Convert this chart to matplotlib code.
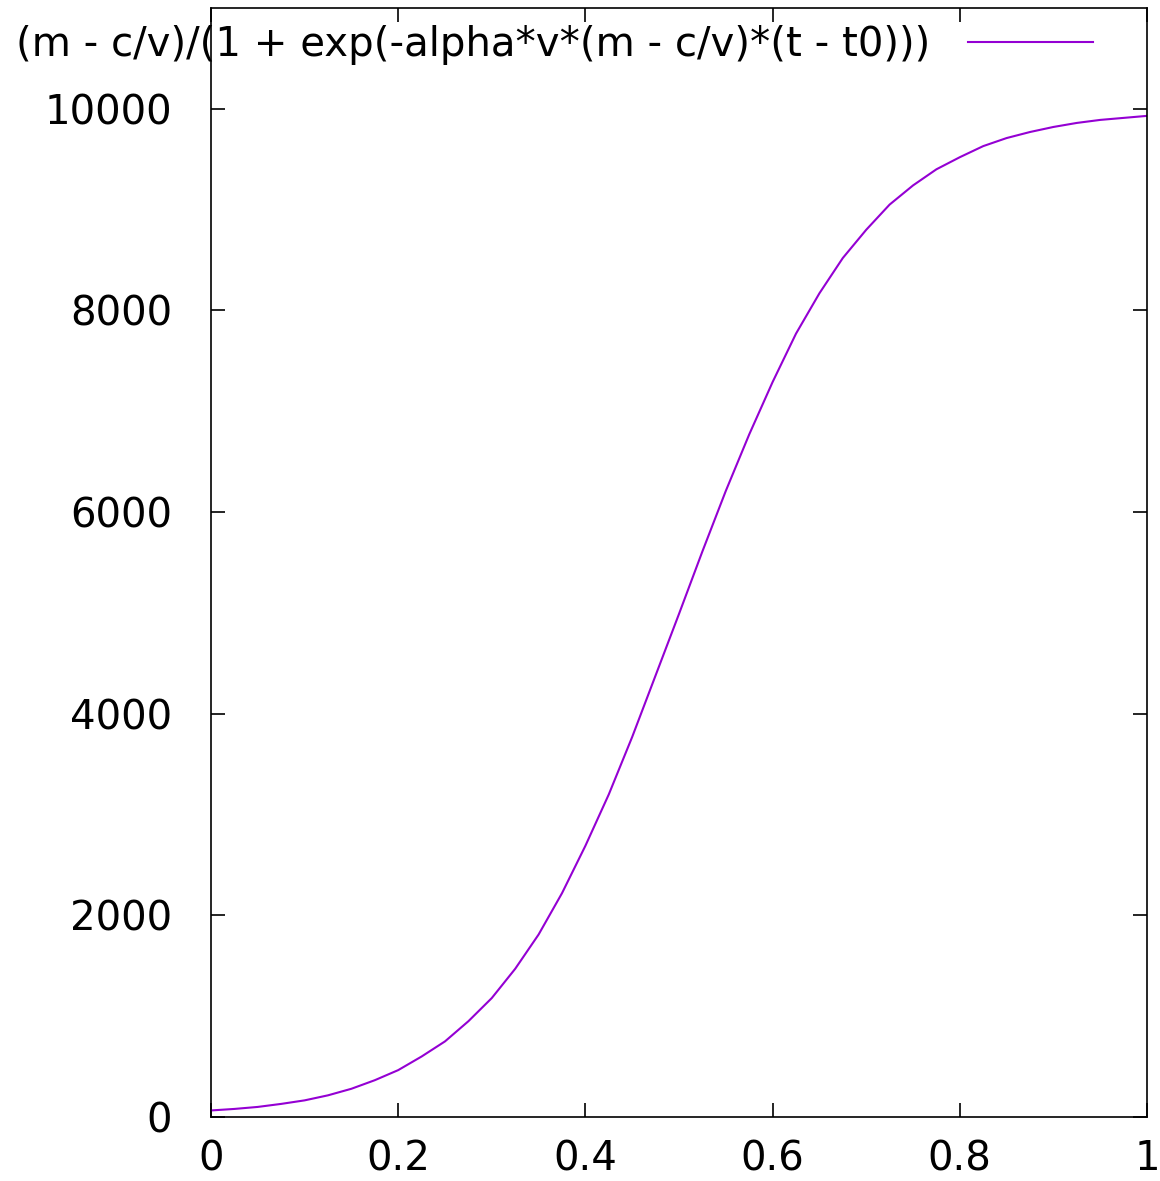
import numpy as np
import matplotlib
matplotlib.use("Agg")
import matplotlib.pyplot as plt

# values
t = [0.0, 0.025, 0.05, 0.075, 0.1, 0.125, 0.15, 0.175, 0.2, 0.225,
     0.25, 0.275, 0.3, 0.325, 0.35, 0.375, 0.4, 0.425, 0.45, 0.475,
     0.5, 0.525, 0.55, 0.575, 0.6, 0.625, 0.65, 0.675, 0.7, 0.725,
     0.75, 0.775, 0.8, 0.825, 0.85, 0.875, 0.9, 0.925, 0.95, 0.975, 1.0]
n = [65, 80, 100, 130, 165, 215, 280, 365, 465, 600,
     750, 950, 1180, 1470, 1810, 2220, 2690, 3200, 3770, 4380,
     4990, 5610, 6210, 6770, 7290, 7770, 8170, 8520, 8800, 9050,
     9240, 9400, 9520, 9630, 9710, 9770, 9820, 9860, 9890, 9910, 9930]
label = "(m - c/v)/(1 + exp(-alpha*v*(m - c/v)*(t - t0)))"
xticks = [0, 0.2, 0.4, 0.6, 0.8, 1]
xticklabels = ["0", "0.2", "0.4", "0.6", "0.8", "1"]
yticks = [0, 2000, 4000, 6000, 8000, 10000]

plt.rcParams['font.family'] = ['DejaVu Sans']
fs = 29

fig = plt.figure(figsize=(11.6, 11.81), dpi=100)
ax = fig.add_axes([211/1160, 1 - 1117/1181, (1147-211)/1160, (1117-8)/1181])

ax.plot(t, n, color='#9400d3', lw=1.5, label=label)

ax.set_xlim(0, 1)
ax.set_ylim(0, 11000)
ax.set_xticks(xticks)
ax.set_xticklabels(xticklabels)
ax.set_yticks(yticks)
ax.tick_params(direction='in', length=10, width=1.2, labelsize=fs,
               top=True, right=True, colors='black')
ax.tick_params(axis='y', pad=28)
ax.tick_params(axis='x', pad=16)
for s in ax.spines.values():
    s.set_linewidth(1.2)

ax.legend(loc='center right', bbox_to_anchor=((1093-211)/936, (1117-45)/1109),
          frameon=False, markerfirst=False, fontsize=fs, handlelength=3.1,
          handletextpad=0.95, borderpad=0, borderaxespad=0)

fig.savefig("out.png", dpi=100)
